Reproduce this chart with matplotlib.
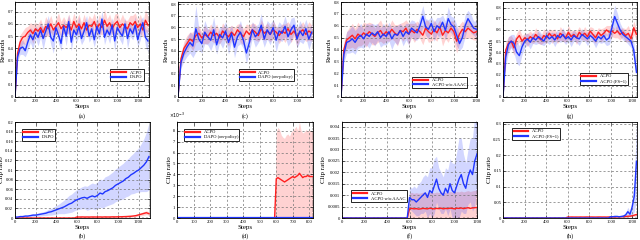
import numpy as np
import matplotlib
matplotlib.use("Agg")
import matplotlib.pyplot as plt
from matplotlib.ticker import MultipleLocator, AutoMinorLocator, FuncFormatter

plt.rcParams['font.family'] = ['Liberation Serif', 'DejaVu Serif']

RED = '#ff1f1f'
BLUE = '#1f35ff'

# ---------------- data ----------------
# (a) rewards, ACPO vs DAPO, steps 0..1300
a_acpo = [0.00, 0.36, 0.45, 0.49, 0.50, 0.53, 0.55, 0.52, 0.56, 0.54, 0.57, 0.53, 0.58, 0.56, 0.60, 0.55, 0.58, 0.61,
          0.56, 0.59, 0.57, 0.60, 0.55, 0.62, 0.57, 0.60, 0.56, 0.61, 0.55, 0.59, 0.58, 0.62, 0.56, 0.60, 0.57, 0.63,
          0.58, 0.61, 0.56, 0.60, 0.62, 0.57, 0.60, 0.58, 0.56, 0.61, 0.59, 0.62, 0.57, 0.60, 0.55, 0.63, 0.59]
a_acpo_std = [0.0, 0.05, 0.06, 0.05, 0.07, 0.05, 0.06, 0.08, 0.05, 0.06, 0.07, 0.05, 0.08, 0.06, 0.07, 0.05, 0.06, 0.08,
              0.06, 0.07, 0.05, 0.08, 0.06, 0.07, 0.06, 0.08, 0.05, 0.07, 0.06, 0.08, 0.06, 0.07, 0.05, 0.08, 0.06, 0.09,
              0.06, 0.07, 0.05, 0.08, 0.07, 0.06, 0.08, 0.05, 0.07, 0.06, 0.08, 0.07, 0.06, 0.08, 0.06, 0.09, 0.07]
a_dapo = [0.00, 0.33, 0.40, 0.41, 0.38, 0.45, 0.51, 0.47, 0.53, 0.49, 0.55, 0.48, 0.54, 0.60, 0.49, 0.46, 0.57, 0.51,
          0.44, 0.58, 0.50, 0.62, 0.45, 0.55, 0.51, 0.58, 0.48, 0.54, 0.61, 0.50, 0.56, 0.47, 0.58, 0.52, 0.64, 0.49,
          0.55, 0.51, 0.59, 0.46, 0.57, 0.53, 0.50, 0.60, 0.48, 0.56, 0.52, 0.59, 0.47, 0.55, 0.61, 0.49, 0.46]
a_dapo_std = [0.0, 0.04, 0.05, 0.06, 0.05, 0.07, 0.06, 0.08, 0.05, 0.07, 0.06, 0.09, 0.05, 0.07, 0.06, 0.10, 0.05, 0.07,
              0.06, 0.05, 0.08, 0.06, 0.07, 0.05, 0.06, 0.08, 0.05, 0.07, 0.06, 0.05, 0.07, 0.06, 0.08, 0.05, 0.07, 0.06,
              0.05, 0.07, 0.06, 0.08, 0.05, 0.06, 0.07, 0.05, 0.08, 0.06, 0.05, 0.07, 0.06, 0.08, 0.05, 0.07, 0.09]

# (c) rewards, ACPO vs DAPO (on-policy), steps 0..1125
c_acpo = [0.00, 0.33, 0.42, 0.46, 0.50, 0.48, 0.53, 0.55, 0.51, 0.54, 0.52, 0.56, 0.53, 0.55, 0.51, 0.57, 0.54, 0.52,
          0.56, 0.53, 0.58, 0.55, 0.52, 0.57, 0.54, 0.58, 0.56, 0.53, 0.59, 0.55, 0.57, 0.54, 0.58, 0.56, 0.53, 0.57,
          0.55, 0.59, 0.54, 0.57, 0.52, 0.56, 0.58, 0.54, 0.57, 0.55]
c_acpo_std = [0.0, 0.05, 0.06, 0.07, 0.06, 0.08, 0.06, 0.07, 0.05, 0.08, 0.06, 0.07, 0.06, 0.08, 0.05, 0.07, 0.06, 0.08,
              0.06, 0.07, 0.05, 0.08, 0.07, 0.06, 0.08, 0.06, 0.07, 0.05, 0.08, 0.06, 0.07, 0.06, 0.08, 0.05, 0.07, 0.06,
              0.08, 0.06, 0.07, 0.05, 0.08, 0.06, 0.07, 0.06, 0.08, 0.07]
c_dapo = [0.00, 0.30, 0.38, 0.43, 0.47, 0.44, 0.59, 0.50, 0.46, 0.56, 0.52, 0.49, 0.58, 0.45, 0.54, 0.51, 0.57, 0.47,
          0.55, 0.43, 0.52, 0.56, 0.49, 0.38, 0.47, 0.58, 0.52, 0.55, 0.62, 0.50, 0.58, 0.54, 0.60, 0.49, 0.57, 0.55,
          0.61, 0.52, 0.58, 0.62, 0.50, 0.57, 0.53, 0.59, 0.50, 0.56]
c_dapo_std = [0.0, 0.05, 0.07, 0.08, 0.09, 0.10, 0.20, 0.09, 0.08, 0.10, 0.07, 0.09, 0.11, 0.08, 0.07, 0.09, 0.08, 0.10,
              0.07, 0.09, 0.08, 0.10, 0.07, 0.09, 0.08, 0.07, 0.09, 0.08, 0.10, 0.07, 0.08, 0.09, 0.07, 0.10, 0.08, 0.07,
              0.09, 0.08, 0.10, 0.07, 0.08, 0.09, 0.07, 0.08, 0.09, 0.07]

# (e) rewards, ACPO vs ACPO w/o AAAC, steps 0..1200
e_acpo = [0.00, 0.40, 0.48, 0.50, 0.52, 0.49, 0.53, 0.51, 0.54, 0.52, 0.55, 0.53, 0.51, 0.54, 0.56, 0.52, 0.55, 0.53,
          0.57, 0.54, 0.52, 0.56, 0.55, 0.58, 0.53, 0.56, 0.54, 0.57, 0.55, 0.52, 0.58, 0.55, 0.53, 0.57, 0.54, 0.59,
          0.52, 0.56, 0.54, 0.58, 0.55, 0.47, 0.53, 0.57, 0.55, 0.58, 0.56, 0.54, 0.55]
e_acpo_std = [0.0, 0.06, 0.07, 0.09, 0.10, 0.09, 0.10, 0.08, 0.09, 0.10, 0.08, 0.09, 0.07, 0.08, 0.09, 0.07, 0.08, 0.06,
              0.08, 0.07, 0.09, 0.06, 0.08, 0.07, 0.09, 0.06, 0.08, 0.07, 0.06, 0.08, 0.07, 0.09, 0.06, 0.08, 0.07, 0.06,
              0.09, 0.07, 0.08, 0.06, 0.09, 0.10, 0.08, 0.07, 0.06, 0.08, 0.07, 0.06, 0.07]
e_noaaac = [0.00, 0.36, 0.46, 0.47, 0.49, 0.46, 0.50, 0.52, 0.49, 0.53, 0.51, 0.54, 0.52, 0.55, 0.50, 0.53, 0.51, 0.55,
            0.49, 0.53, 0.52, 0.56, 0.51, 0.55, 0.53, 0.58, 0.56, 0.54, 0.60, 0.68, 0.59, 0.57, 0.62, 0.55, 0.60, 0.58,
            0.63, 0.56, 0.66, 0.61, 0.59, 0.52, 0.45, 0.50, 0.60, 0.66, 0.62, 0.58, 0.57]
e_noaaac_std = [0.0, 0.07, 0.09, 0.10, 0.11, 0.10, 0.09, 0.10, 0.08, 0.09, 0.10, 0.08, 0.09, 0.07, 0.08, 0.09, 0.07, 0.08,
                0.09, 0.07, 0.08, 0.06, 0.08, 0.07, 0.09, 0.07, 0.08, 0.06, 0.08, 0.09, 0.07, 0.08, 0.06, 0.08, 0.07, 0.09,
                0.06, 0.08, 0.10, 0.07, 0.08, 0.09, 0.06, 0.08, 0.09, 0.07, 0.08, 0.06, 0.07]

# (g) rewards, ACPO vs ACPO (FS=1), steps 0..1240
g_acpo = [0.00, 0.42, 0.48, 0.50, 0.44, 0.52, 0.55, 0.50, 0.53, 0.51, 0.54, 0.52, 0.56, 0.53, 0.51, 0.55, 0.53, 0.57,
          0.54, 0.56, 0.52, 0.57, 0.55, 0.53, 0.58, 0.54, 0.56, 0.53, 0.58, 0.55, 0.57, 0.54, 0.59, 0.56, 0.53, 0.58,
          0.55, 0.57, 0.60, 0.58, 0.59, 0.57, 0.59, 0.56, 0.58, 0.55, 0.57, 0.52, 0.62, 0.56]
g_acpo_std = [0.0, 0.07, 0.06, 0.05, 0.07, 0.05, 0.06, 0.05, 0.04, 0.06, 0.05, 0.04, 0.06, 0.05, 0.04, 0.06, 0.05, 0.04,
              0.06, 0.05, 0.04, 0.06, 0.05, 0.04, 0.06, 0.05, 0.04, 0.06, 0.05, 0.04, 0.06, 0.05, 0.04, 0.06, 0.05, 0.04,
              0.06, 0.05, 0.04, 0.06, 0.05, 0.04, 0.06, 0.05, 0.04, 0.06, 0.07, 0.05, 0.06, 0.05]
g_fs = [0.00, 0.36, 0.47, 0.50, 0.48, 0.40, 0.37, 0.45, 0.50, 0.52, 0.49, 0.53, 0.51, 0.54, 0.52, 0.50, 0.55, 0.52,
        0.54, 0.51, 0.55, 0.53, 0.56, 0.52, 0.54, 0.51, 0.55, 0.53, 0.52, 0.56, 0.54, 0.52, 0.55, 0.53, 0.50, 0.54,
        0.52, 0.55, 0.51, 0.53, 0.62, 0.72, 0.66, 0.60, 0.56, 0.54, 0.52, 0.50, 0.42, 0.22]
g_fs_std = [0.0, 0.08, 0.07, 0.06, 0.08, 0.10, 0.09, 0.07, 0.06, 0.05, 0.06, 0.05, 0.04, 0.06, 0.05, 0.04, 0.06, 0.05,
            0.04, 0.06, 0.05, 0.04, 0.06, 0.05, 0.04, 0.06, 0.05, 0.04, 0.06, 0.05, 0.04, 0.06, 0.05, 0.04, 0.06, 0.05,
            0.04, 0.06, 0.05, 0.06, 0.08, 0.10, 0.09, 0.06, 0.05, 0.04, 0.05, 0.06, 0.08, 0.05]

# (b) clip ratio, ACPO vs DAPO, steps 0..1300
b_acpo = [0.0] * 24 + [0.002, 0.002, 0.0022, 0.002, 0.0021, 0.002, 0.0022, 0.0021, 0.002, 0.0022, 0.002, 0.0023,
                       0.0021, 0.0022, 0.0024, 0.0023, 0.0025, 0.0026, 0.0028, 0.003, 0.0033, 0.0036, 0.0042, 0.005,
                       0.0065, 0.008, 0.0095, 0.011, 0.009]
b_acpo_std = [0.0] * 24 + [0.0015, 0.0014, 0.0016, 0.0015, 0.0015, 0.0014, 0.0016, 0.0015, 0.0015, 0.0016, 0.0015,
                           0.0016, 0.0015, 0.0016, 0.0017, 0.0016, 0.0017, 0.0018, 0.0019, 0.002, 0.0021, 0.0022, 0.0024,
                           0.0026, 0.003, 0.0034, 0.0038, 0.004, 0.0038]
b_dapo = [0.002, 0.002, 0.003, 0.003, 0.004, 0.004, 0.005, 0.006, 0.006, 0.007, 0.008, 0.009, 0.010, 0.012, 0.013,
          0.015, 0.017, 0.019, 0.021, 0.023, 0.026, 0.029, 0.031, 0.035, 0.038, 0.040, 0.042, 0.043, 0.041, 0.044,
          0.046, 0.044, 0.047, 0.052, 0.050, 0.055, 0.057, 0.060, 0.063, 0.068, 0.071, 0.074, 0.077, 0.082, 0.085,
          0.090, 0.093, 0.097, 0.100, 0.105, 0.110, 0.117, 0.128]
b_dapo_std = [0.001, 0.001, 0.0015, 0.0015, 0.002, 0.002, 0.0025, 0.003, 0.003, 0.0035, 0.004, 0.004, 0.005, 0.006,
              0.007, 0.008, 0.009, 0.010, 0.012, 0.014, 0.016, 0.018, 0.019, 0.020, 0.021, 0.022, 0.023, 0.024, 0.025,
              0.026, 0.027, 0.027, 0.028, 0.029, 0.030, 0.031, 0.031, 0.032, 0.033, 0.034, 0.035, 0.036, 0.037, 0.038,
              0.039, 0.040, 0.042, 0.044, 0.046, 0.050, 0.055, 0.062, 0.070]

# (d) clip ratio (x1e-3), ACPO vs DAPO (on-policy), steps 0..820
d_acpo = [0.0] * 59 + [0.0, 3.6, 3.7, 3.6, 3.5, 3.4, 3.3, 3.4, 3.5, 3.6, 3.7, 3.8, 3.7, 3.8, 3.9, 4.1, 3.9, 3.7,
                       3.8, 3.8, 3.9, 3.8, 3.8, 3.8]
d_acpo_std = [0.0] * 59 + [0.0, 4.3, 4.6, 4.5, 4.1, 4.0, 4.0, 4.2, 4.2, 3.9, 4.2, 4.2, 4.5, 4.6, 4.1, 4.7, 4.1, 4.1,
                           4.1, 4.3, 4.1, 4.3, 4.1, 4.2]
d_dapo = [0.0] * 83
d_dapo_std = [0.0] * 83

# (f) clip ratio, ACPO vs ACPO w/o AAAC, steps 0..1200
f_acpo = [0.0] * 30 + [0.0004, 0.00042, 0.0004, 0.00041, 0.00039, 0.0004, 0.00042, 0.00041, 0.0004, 0.00043,
                       0.00041, 0.0004, 0.00042, 0.00041, 0.00043, 0.0004, 0.00042, 0.00041, 0.00043, 0.00042,
                       0.0004, 0.00043, 0.00042, 0.00044, 0.00041, 0.00043, 0.00045, 0.00042, 0.00044, 0.00045, 0.00046]
f_acpo_std = [0.0] * 30 + [0.0007, 0.0007, 0.00068, 0.0007, 0.00069, 0.0007, 0.00071, 0.0007, 0.00069, 0.0007,
                           0.00071, 0.0007, 0.00072, 0.0007, 0.00071, 0.00072, 0.0007, 0.00071, 0.00073, 0.00072,
                           0.00071, 0.00073, 0.00072, 0.00074, 0.00073, 0.00074, 0.00075, 0.00074, 0.00075, 0.00076,
                           0.00076]
f_noaaac = [0.0] * 30 + [0.0009, 0.0008, 0.0008, 0.0007, 0.0008, 0.0009, 0.0010, 0.0011, 0.0009, 0.0012,
                         0.0011, 0.0014, 0.0017, 0.0013, 0.0011, 0.0010, 0.0013, 0.0011, 0.0015, 0.0012,
                         0.0011, 0.0014, 0.0017, 0.0019, 0.0015, 0.0013, 0.0018, 0.0021, 0.0019, 0.0025, 0.0028]
f_noaaac_std = [0.0] * 30 + [0.0005, 0.0005, 0.0006, 0.0006, 0.0007, 0.0007, 0.0008, 0.0008, 0.0009, 0.0010,
                             0.0011, 0.0012, 0.0010, 0.0009, 0.0009, 0.0008, 0.0009, 0.0010, 0.0011, 0.0012,
                             0.0013, 0.0015, 0.0018, 0.0016, 0.0013, 0.0011, 0.0012, 0.0014, 0.0016, 0.0020, 0.0014]

# (h) clip ratio, ACPO vs ACPO (FS=1), steps 0..1240
h_acpo = [0.0] * 30 + [0.003, 0.003, 0.0032, 0.003, 0.0031, 0.003, 0.0032, 0.003, 0.0031, 0.0033,
                       0.003, 0.0032, 0.0031, 0.003, 0.0032, 0.0033, 0.0031, 0.0032, 0.003, 0.0033,
                       0.0034, 0.0035, 0.0036, 0.0038, 0.004, 0.0042, 0.0045, 0.005, 0.0055, 0.006,
                       0.007, 0.009, 0.011]
h_acpo_std = [0.0] * 30 + [0.002, 0.002, 0.0021, 0.002, 0.002, 0.0021, 0.002, 0.002, 0.0021, 0.002,
                           0.002, 0.0021, 0.002, 0.002, 0.0021, 0.002, 0.002, 0.0021, 0.002, 0.0021,
                           0.0022, 0.0022, 0.0023, 0.0023, 0.0024, 0.0025, 0.0026, 0.0028, 0.003, 0.0032,
                           0.0036, 0.0042, 0.005]
h_fs = [0.0] * 50 + [0.004, 0.004, 0.005, 0.005, 0.004, 0.005, 0.006, 0.010, 0.020, 0.012, 0.035, 0.070, 0.180]
h_fs_std = [0.0] * 50 + [0.002, 0.002, 0.003, 0.002, 0.002, 0.003, 0.004, 0.008, 0.014, 0.008, 0.025, 0.05, 0.12]


def band(ax, end, mean, std, color, label, lw=1.0):
    m = np.asarray(mean, dtype=float)
    s = np.asarray(std, dtype=float)
    x = np.linspace(0, end, len(m))
    ax.fill_between(x, np.clip(m - s, 0, None), m + s, color=color, alpha=0.2, lw=0)
    ax.plot(x, m, color=color, lw=lw, label=label)


def style(ax, xlim, ylim, xstep, ystep, ylabel, cap, cap_y):
    ax.set_xlim(*xlim)
    ax.set_ylim(*ylim)
    ax.xaxis.set_major_locator(MultipleLocator(xstep))
    ax.yaxis.set_major_locator(MultipleLocator(ystep))
    ax.xaxis.set_minor_locator(AutoMinorLocator(5))
    ax.yaxis.set_minor_locator(AutoMinorLocator(5))
    ax.yaxis.set_major_formatter(FuncFormatter(lambda v, _: f'{v:g}'))
    ax.tick_params(which='both', direction='in', top=True, right=True, labelsize=3.3, pad=1.2)
    ax.tick_params(which='major', length=2, width=0.4)
    ax.tick_params(which='minor', length=1, width=0.3)
    ax.grid(True, which='major', ls='--', lw=0.5, color='0.45', dashes=(3, 3))
    for sp in ax.spines.values():
        sp.set_linewidth(0.6)
    ax.set_xlabel('Steps', fontsize=5, labelpad=1)
    ax.set_ylabel(ylabel, fontsize=5, labelpad=1)
    pos = ax.get_position()
    fig.text((pos.x0 + pos.x1) / 2, cap_y, cap, ha='center', va='center', fontsize=4.5)


def legend(ax, loc, anchor):
    lg = ax.legend(loc=loc, bbox_to_anchor=anchor, fontsize=3.3, frameon=True, fancybox=False,
                   edgecolor='black', framealpha=1, borderpad=0.3, handlelength=3.2, labelspacing=0.15,
                   handletextpad=0.8, borderaxespad=0)
    lg.get_frame().set_linewidth(0.6)
    for h in lg.get_lines():
        h.set_linewidth(1.6)


W, H = 640, 240
fig = plt.figure(figsize=(6.4, 2.4), dpi=100)


def axes_px(l, r, t, b):
    return fig.add_axes([l / W, 1 - b / H, (r - l) / W, (b - t) / H])


top = [(15, 149), (178, 313), (341, 477), (503, 637)]
bot = [(15, 150), (177, 313), (342, 477), (503, 637)]
ax_a = axes_px(*top[0], 2, 97)
ax_c = axes_px(*top[1], 2, 97)
ax_e = axes_px(*top[2], 2, 97)
ax_g = axes_px(*top[3], 2, 97)
ax_b = axes_px(*bot[0], 122, 218)
ax_d = axes_px(*bot[1], 122, 218)
ax_f = axes_px(*bot[2], 122, 218)
ax_h = axes_px(*bot[3], 122, 218)

cap_top = 1 - 116 / H
cap_bot = 1 - 236.5 / H

# top row: rewards
band(ax_a, 1300, a_acpo, a_acpo_std, RED, 'ACPO')
band(ax_a, 1300, a_dapo, a_dapo_std, BLUE, 'DAPO')
style(ax_a, (0, 1310), (0, 0.78), 200, 0.1, 'Rewards', '(a)', cap_top)
legend(ax_a, 'lower right', (0.96, 0.17))

band(ax_c, 1125, c_acpo, c_acpo_std, RED, 'ACPO')
band(ax_c, 1125, c_dapo, c_dapo_std, BLUE, 'DAPO (on-policy)')
style(ax_c, (0, 1135), (0, 0.82), 200, 0.1, 'Rewards', '(c)', cap_top)
legend(ax_c, 'lower right', (0.86, 0.17))

band(ax_e, 1200, e_acpo, e_acpo_std, RED, 'ACPO')
band(ax_e, 1200, e_noaaac, e_noaaac_std, BLUE, 'ACPO w/o AAAC')
style(ax_e, (0, 1205), (0, 0.8), 200, 0.1, 'Rewards', '(e)', cap_top)
legend(ax_e, 'lower right', (0.93, 0.09))

band(ax_g, 1240, g_acpo, g_acpo_std, RED, 'ACPO')
band(ax_g, 1240, g_fs, g_fs_std, BLUE, 'ACPO (FS=1)')
style(ax_g, (0, 1245), (0, 0.85), 200, 0.1, 'Rewards', '(g)', cap_top)
legend(ax_g, 'lower right', (0.93, 0.13))

# bottom row: clip ratio
band(ax_b, 1300, b_acpo, b_acpo_std, RED, 'ACPO')
band(ax_b, 1300, b_dapo, b_dapo_std, BLUE, 'DAPO')
style(ax_b, (0, 1310), (0, 0.2), 200, 0.02, 'Clip ratio', '(b)', cap_bot)
legend(ax_b, 'upper left', (0.05, 0.93))

band(ax_d, 820, d_acpo, d_acpo_std, RED, 'ACPO')
band(ax_d, 820, d_dapo, d_dapo_std, BLUE, 'DAPO (on-policy)', lw=1.6)
style(ax_d, (0, 822), (0, 8.8), 100, 1, 'Clip ratio', '(d)', cap_bot)
ax_d.text(-0.06, 1.02, r'$\times10^{-3}$', transform=ax_d.transAxes, fontsize=3.3, ha='left', va='bottom')
legend(ax_d, 'upper left', (0.05, 0.93))

band(ax_f, 1200, f_acpo, f_acpo_std, RED, 'ACPO')
band(ax_f, 1200, f_noaaac, f_noaaac_std, BLUE, 'ACPO w/o AAAC')
style(ax_f, (0, 1200), (0, 0.0042), 200, 0.0005, 'Clip ratio', '(f)', cap_bot)
legend(ax_f, 'upper left', (0.07, 0.29))

band(ax_h, 1240, h_acpo, h_acpo_std, RED, 'ACPO')
band(ax_h, 1240, h_fs, h_fs_std, BLUE, 'ACPO (FS=1)')
style(ax_h, (0, 1245), (0, 0.305), 200, 0.05, 'Clip ratio', '(h)', cap_bot)
legend(ax_h, 'upper left', (0.07, 0.94))

fig.savefig('out.png', dpi=100, facecolor='white')
